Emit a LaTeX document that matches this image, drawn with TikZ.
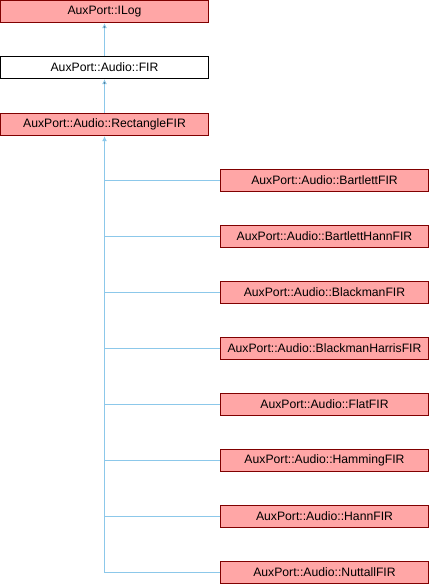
\documentclass[tikz,border=0pt]{standalone}
\usepackage{fontspec}
\setmainfont{Liberation Sans}
\definecolor{boxfill}{HTML}{FFA6A6}
\definecolor{boxline}{HTML}{800000}
\definecolor{edgeblue}{HTML}{8CC8EA}
\usetikzlibrary{arrows.meta}
\begin{document}
\begin{tikzpicture}[x=1pt,y=-1pt,
  class node/.style={rectangle,draw=boxline,fill=boxfill,line width=0.9pt,
    minimum width=208pt,minimum height=22.5pt,inner sep=0pt,
    font=\fontsize{12.2}{14}\selectfont},
  plain node/.style={class node,draw=black,fill=white},
  link/.style={draw=edgeblue,line width=0.9pt},
  inherit/.style={link,-{Latex[length=5pt,width=5pt]}}]

  \useasboundingbox (0,0) rectangle (430,584);

  \node[class node] (ilog) at (104.5,11.5) {AuxPort::ILog};
  \node[plain node] (fir) at (104.5,67.5) {AuxPort::Audio::FIR};
  \node[class node] (rect) at (104.5,124.5) {AuxPort::Audio::RectangleFIR};

  \path[inherit] (fir) edge (ilog)
   (rect) edge (fir);

  % derived windows
  \foreach \name [count=\i] in {Bartlett,BartlettHann,Blackman,BlackmanHarris,Flat,Hamming,Hann,Nuttall}{
    \node[class node] (w\i) at (324.5,124.5+56*\i) {AuxPort::Audio::\name FIR};
    \coordinate (j\i) at (104.5,124.5+56*\i);
    \draw[link] (j\i) -- (w\i.west);
  }
  \draw[inherit] (j8) -- (rect);
\end{tikzpicture}
\end{document}
